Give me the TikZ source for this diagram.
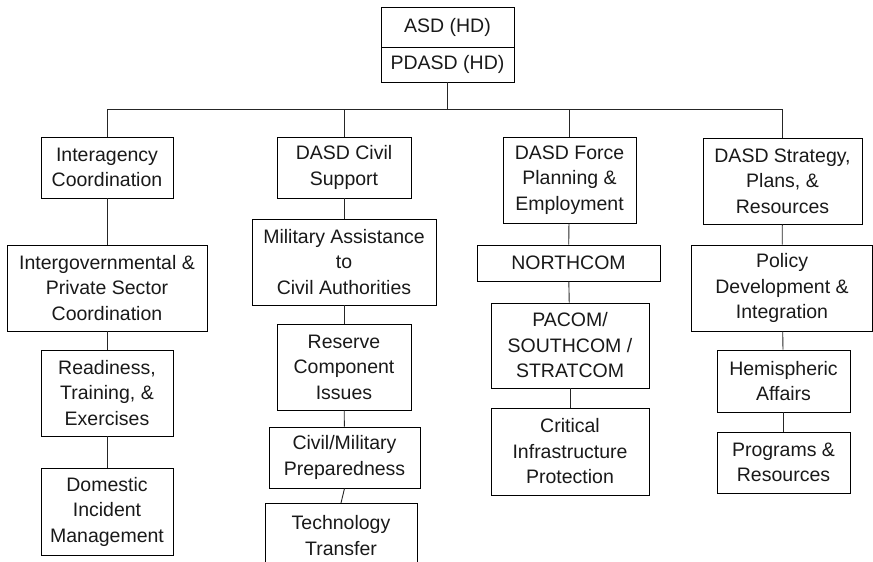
\documentclass[tikz,border=0pt]{standalone}
\usepackage{fontspec}
\setmainfont{Liberation Sans}
\begin{document}
\begin{tikzpicture}[x=1pt,y=-1pt,
  box/.style={draw=black, line width=0.9pt, inner sep=0pt, align=center,
    font=\fontsize{19.5}{25.5}\selectfont, text=black!90},
  link/.style={draw=black!85, line width=0.9pt}]
\useasboundingbox (0,0) rectangle (873,562);
\clip (0,0) rectangle (873,562);
% top
\node[box, minimum width=133, minimum height=40] (asd) at (447.5,27) {ASD (HD)};
\node[box, minimum width=133, minimum height=35] (pdasd) at (447.5,64.5) {PDASD (HD)};
\coordinate (bus) at (447.5,109);
% column 1
\node[box, minimum width=132, minimum height=61] (inter) at (107,167.5) {Interagency\\Coordination};
\node[box, minimum width=200, minimum height=86] (intergov) at (107,288) {Intergovernmental \&\\Private Sector\\Coordination};
\node[box, minimum width=132, minimum height=86] (ready) at (107,393) {Readiness,\\Training, \&\\Exercises};
\node[box, minimum width=132, minimum height=87] (dom) at (107,511.5) {Domestic\\Incident\\Management};
% column 2
\node[box, minimum width=134, minimum height=61] (civil) at (344,167.5) {DASD Civil\\Support};
\node[box, minimum width=184, minimum height=86] (mil) at (344,262) {Military Assistance\\to\\Civil Authorities};
\node[box, minimum width=134, minimum height=86] (res) at (344,367) {Reserve\\Component\\Issues};
\node[box, minimum width=151, minimum height=61] (cmp) at (344.5,457.5) {Civil/Military\\Preparedness};
\node[box, minimum width=152, minimum height=64, anchor=north] (tech) at (341,503) {Technology\\Transfer};
% column 3
\node[box, minimum width=133, minimum height=86] (force) at (569.5,180) {DASD Force\\Planning \&\\Employment};
\node[box, minimum width=183, minimum height=36] (north) at (568.5,263) {NORTHCOM};
\node[box, minimum width=158, minimum height=85] (pacom) at (570,345.5) {PACOM/\\SOUTHCOM /\\STRATCOM};
\node[box, minimum width=158, minimum height=87] (crit) at (570,451.5) {Critical\\Infrastructure\\Protection};
% column 4
\node[box, minimum width=159, minimum height=86] (strat) at (782.5,181) {DASD Strategy,\\Plans, \&\\Resources};
\node[box, minimum width=181, minimum height=86] (policy) at (782,288) {Policy\\Development \&\\Integration};
\node[box, minimum width=133, minimum height=62] (hemi) at (783.5,381) {Hemispheric\\Affairs};
\node[box, minimum width=133, minimum height=61] (prog) at (783.5,462.5) {Programs \&\\Resources};
% connectors
\draw[link, line width=1.5pt] (pdasd.south) -- (bus);
\draw[link] (inter.north) -- (inter.north |- bus) -- (strat.north |- bus) -- (strat.north);
\draw[link] (civil.north |- bus) -- (civil.north);
\draw[link] (force.north |- bus) -- (force.north);
\draw[link] (inter) -- (intergov);
\draw[link] (intergov) -- (ready);
\draw[link] (ready) -- (dom);
\draw[link] (civil) -- (mil);
\draw[link] (mil) -- (res);
\draw[link] (res) -- (cmp);
\draw[link] (cmp.south) -- (tech.north);
\draw[link] (force) -- (north);
\draw[link] (north) -- (pacom);
\draw[link] (pacom) -- (crit);
\draw[link] (strat) -- (policy);
\draw[link] (policy) -- (hemi);
\draw[link] (hemi) -- (prog);
\end{tikzpicture}
\end{document}
